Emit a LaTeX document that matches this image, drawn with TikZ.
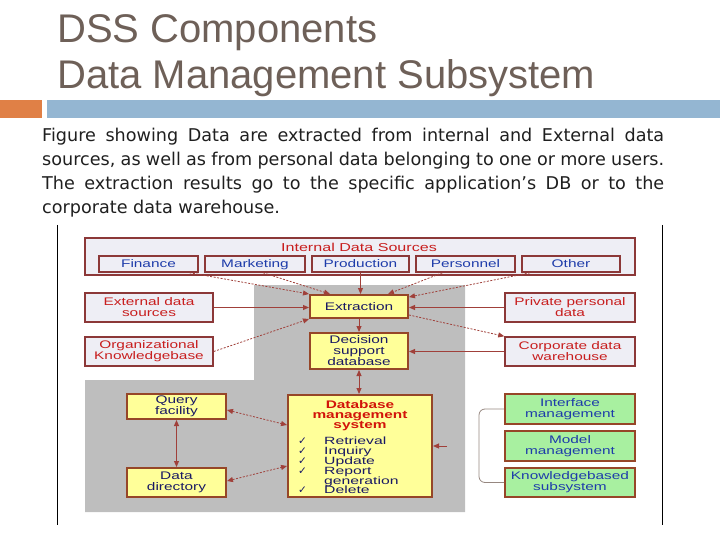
\documentclass[tikz,border=0pt]{standalone}
\usepackage{fontspec}
\usetikzlibrary{arrows.meta,calc}
\newfontfamily\titlefont{Liberation Sans}
\newfontfamily\parafont{DejaVu Sans}
\newfontfamily\dfont[FakeStretch=1.4]{Liberation Sans}
\newfontfamily\listfont[FakeStretch=1.5]{Liberation Sans}
\newfontfamily\symfont{DejaVu Sans}
\newcommand\mychk{\makebox[26pt][l]{\smash{\symfont\fontsize{10.5}{10.5}\selectfont ✓}}}
\newcommand\tightlines{\lineskiplimit=-20pt\lineskip=0pt\relax}
\definecolor{titlec}{RGB}{110,96,88}
\definecolor{orangebar}{RGB}{224,128,70}
\definecolor{bluebar}{RGB}{148,182,210}
\definecolor{graybg}{RGB}{190,190,190}
\definecolor{boxborder}{RGB}{140,56,56}
\definecolor{lightfill}{RGB}{238,238,245}
\definecolor{yellowfill}{RGB}{255,255,153}
\definecolor{yellowborder}{RGB}{150,70,40}
\definecolor{greenfill}{RGB}{168,240,160}
\definecolor{redtext}{RGB}{200,30,30}
\definecolor{bluetext}{RGB}{30,60,170}
\definecolor{navytext}{RGB}{25,25,100}
\definecolor{arrowc}{RGB}{160,64,58}
\definecolor{dbmsred}{RGB}{210,20,10}
\definecolor{bracketc}{RGB}{150,135,128}
\tikzset{
  dtext/.style={font=\dfont\fontsize{11}{11}\selectfont},
  srcbox/.style={draw=boxborder, line width=1.5pt, fill=lightfill, inner sep=0pt, align=center, dtext, text=redtext},
  inbox/.style={srcbox, text=bluetext, text height=7.5pt, text depth=1.5pt},
  ybox/.style={draw=yellowborder, line width=2pt, fill=yellowfill, inner sep=0pt, align=center, dtext, text=navytext},
  gbox/.style={ybox, fill=greenfill, text=bluetext},
  arr/.style={draw=arrowc, line width=1pt, -{Triangle[length=6pt,width=5pt]}},
  darr/.style={arr, dash pattern=on 2pt off 1.5pt, line width=0.8pt},
  barr/.style={arr, {Triangle[length=6pt,width=5pt]}-{Triangle[length=6pt,width=5pt]}},
  dbarr/.style={darr, {Triangle[length=6pt,width=5pt]}-{Triangle[length=6pt,width=5pt]}},
}
\begin{document}
\begin{tikzpicture}[x=1pt,y=-1pt]
\useasboundingbox (0,0) rectangle (720,540);
% title
\node[anchor=base west, inner sep=0, font=\titlefont\fontsize{40}{40}\selectfont, text=titlec] (t1) at (57,43) {DSS Components};
\node[anchor=base west, inner sep=0, font=\titlefont\fontsize{40}{40}\selectfont, text=titlec] (t2) at (57,89) {Data Management Subsystem};
% bars
\fill[orangebar] (0,100) rectangle (42,118);
\fill[bluebar] (47,100) rectangle (720,118);
% paragraph
\node[anchor=north west, inner sep=0, text width=622pt, align=justify, font=\parafont\fontsize{17.6}{24}\selectfont, text=black!88] (para) at (42,128)
{Figure showing Data are extracted from internal and External data\linebreak
sources, as well as from personal data belonging to one or more users.\linebreak
The extraction results go to the specific application’s DB or to the\linebreak
corporate data warehouse.};
% side lines
\draw[line width=1pt] (57,225) -- (57,525);
\draw[line width=1pt] (662,225) -- (662,525);
% gray region
\fill[graybg] (254,285) -- (465,285) -- (465,512) -- (85,512) -- (85,380) -- (254,380) -- cycle;
% internal data sources
\node[srcbox, minimum width=550pt, minimum height=37pt] (ids) at (360,256.5) {};
\node[font=\dfont\fontsize{11.5}{11.5}\selectfont, text=redtext, inner sep=0] (idst) at (359,247) {Internal Data Sources};
\node[inbox, minimum width=99pt, minimum height=16pt] (fin) at (148.5,264) {Finance};
\node[inbox, minimum width=100pt, minimum height=16pt] (mkt) at (255,264) {Marketing};
\node[inbox, minimum width=97pt, minimum height=16pt] (prod) at (360.5,264) {Production};
\node[inbox, minimum width=99pt, minimum height=16pt] (pers) at (465.5,264) {Personnel};
\node[inbox, minimum width=98pt, minimum height=16pt] (oth) at (571,264) {Other};
% side boxes
\node[srcbox, minimum width=128pt, minimum height=29pt] (exts) at (149,307.5) {External data\\sources};
\node[srcbox, minimum width=128pt, minimum height=29pt] (org) at (149,351.5) {Organizational\\Knowledgebase};
\node[srcbox, minimum width=130pt, minimum height=29pt] (priv) at (570,307.5) {Private personal\\data};
\node[srcbox, minimum width=130pt, minimum height=29pt] (corp) at (570,351.5) {Corporate data\\warehouse};
% yellow boxes
\node[ybox, minimum width=98pt, minimum height=23pt] (extr) at (359,306.5) {Extraction};
\node[ybox, minimum width=98pt, minimum height=36pt] (dec) at (359,351) {Decision\\support\\database};
\node[ybox, minimum width=144pt, minimum height=102pt] (dbms) at (360,446) {};
\node[ybox, minimum width=99pt, minimum height=25pt] (qry) at (176.5,406.5) {Query\\facility};
\node[ybox, minimum width=99pt, minimum height=29pt] (dd) at (176.5,482.5) {Data\\directory};
\node[inner sep=0, align=center, font=\dfont\bfseries\fontsize{11}{10}\selectfont, text=dbmsred] (dbmst) at (360,416) {Database\\management\\system};
\node[anchor=north west, inner sep=0, align=left, font=\listfont\fontsize{10.5}{9.8}\selectfont\tightlines, text=navytext] (dbmsl) at (298,437)
{\mychk Retrieval\\
\mychk Inquiry\\
\mychk Update\\
\mychk Report\\
\makebox[26pt]{}generation\\
\mychk Delete};
% green boxes
\node[gbox, minimum width=130pt, minimum height=30pt] (intf) at (570,409) {Interface\\management};
\node[gbox, minimum width=130pt, minimum height=30pt] (model) at (570,446) {Model\\management};
\node[gbox, minimum width=130pt, minimum height=29pt] (kb) at (570,482.5) {Knowledgebased\\subsystem};
% connectors
\draw[darr] ([xshift=41pt]fin.south) -- (extr.north west);
\draw[darr] ([xshift=8pt]mkt.south) -- ([xshift=-29pt]extr.north);
\draw[arr] (prod.south) -- (prod.south |- extr.north);
\draw[darr] ([xshift=-23pt]pers.south) -- ([xshift=29pt]extr.north);
\draw[darr] ([xshift=-41pt]oth.south) -- ([yshift=-3pt]extr.north east);
\draw[arr] (exts.east) -- (exts.east -| extr.west);
\draw[darr] (org.east) -- (extr.south west);
\draw[arr] (priv.west) -- (priv.west -| extr.east);
\draw[darr] ([yshift=4pt]extr.south east) -- (corp.north west);
\draw[arr] (corp.west) -- (corp.west -| dec.east);
\draw[arr] (extr.south) -- (dec.north);
\draw[barr] (dec.south) -- (dec.south |- dbms.north);
\draw[dbarr] ([yshift=-3.5pt]qry.east) -- ([yshift=21pt]dbms.west);
\draw[dbarr] ([yshift=1.5pt]dd.east) -- ([yshift=-20pt]dbms.west);
\draw[barr] (qry.south) -- (dd.north);
\coordinate (brk) at (447,446);
\draw[arr] (brk) -- (brk -| dbms.east);
\draw[bracketc, line width=0.8pt, rounded corners=6pt] (intf.west) -- ++(-25,0) |- (kb.west);
\end{tikzpicture}
\end{document}
